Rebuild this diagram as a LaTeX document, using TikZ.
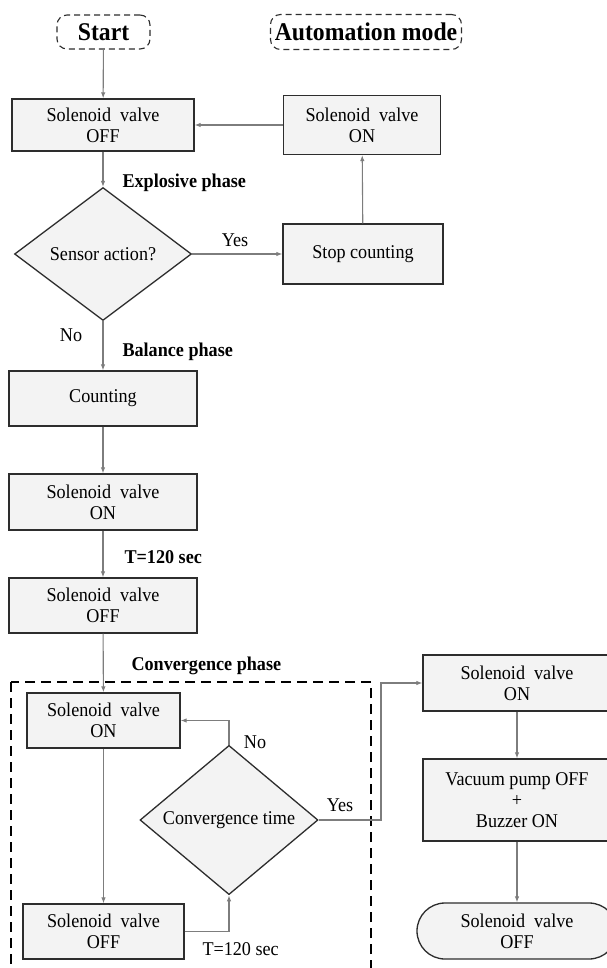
\documentclass[tikz,border=0pt]{standalone}
\usepackage{fontspec}
\setmainfont{Liberation Serif}[FakeStretch=0.93]
\usepackage{tikz}
\usetikzlibrary{arrows.meta, shapes.geometric, shapes.misc, calc}
\definecolor{boxfill}{RGB}{243,243,243}
\definecolor{boxline}{RGB}{45,45,45}
\definecolor{linegray}{RGB}{125,125,125}
\tikzset{>={Latex[length=6pt,width=4.5pt]}}
\tikzset{
  proc/.style={draw=boxline, line width=1.3pt, fill=boxfill, inner sep=0pt, align=center},
  decide/.style={diamond, draw=boxline, line width=1.3pt, fill=boxfill, inner sep=0pt, align=center},
  endbox/.style={rounded rectangle, draw=boxline, line width=1.3pt, fill=boxfill, inner sep=0pt, align=center},
  startbox/.style={draw=boxline, dash pattern=on 6pt off 4pt, line width=1.1pt, rounded corners=10pt, inner sep=0pt, font=\fontsize{25.5}{28}\selectfont\bfseries},
  conn/.style={draw=linegray, line width=1.1pt, ->},
  phase/.style={anchor=west, font=\fontsize{19.5}{21}\selectfont\bfseries}
}

\begin{document}
\begin{tikzpicture}[x=1pt, y=-1pt, font=\fontsize{19.5}{21}\selectfont]

			\useasboundingbox (0,0) rectangle (606,968);

			% top row
			\node [startbox, minimum width=93pt, minimum height=34pt] (start) at (103.5,32) {Start};
			\node [startbox, minimum width=191pt, minimum height=35pt] (auto) at (366,32) {Automation mode};

			% explosive phase
			\node [proc, minimum width=182pt, minimum height=52pt] (svoffa) at (103,125) {Solenoid\ \ valve\\OFF};
			\node [proc, minimum width=157pt, minimum height=59pt] (svonr) at (362,125) {Solenoid\ \ valve\\ON};
			\node [decide, minimum width=177pt, minimum height=133pt] (sensor) at (103,254) {Sensor action?};
			\node [proc, minimum width=160pt, minimum height=60pt] (stopc) at (363,254) {Stop counting};
			\node [phase] (lexpl) at (119,183) {Explosive phase};
			\node (lyesa) at (235,240) {Yes};
			\node (lnoa) at (71,335) {No};

			% balance phase
			\node [phase] (lbal) at (119,352) {Balance phase};
			\node [proc, minimum width=188pt, minimum height=55pt] (count) at (103,398.5) {Counting};
			\node [proc, minimum width=188pt, minimum height=56pt] (svonb) at (103,502) {Solenoid\ \ valve\\ON};
			\node [phase] (ltb) at (121,557) {T=120 sec};
			\node [proc, minimum width=188pt, minimum height=55pt] (svoffb) at (103,605.5) {Solenoid\ \ valve\\OFF};

			% convergence phase
			\node [phase] (lconv) at (128,666) {Convergence phase};
			\draw [black, line width=2pt, dash pattern=on 10pt off 6pt] (11,682) rectangle (371,990);
			\node [proc, minimum width=153pt, minimum height=55pt] (cvon) at (103.5,720.5) {Solenoid\ \ valve\\ON};
			\node [proc, minimum width=161pt, minimum height=55pt] (cvoff) at (103.5,931.5) {Solenoid\ \ valve\\OFF};
			\node [decide, minimum width=178pt, minimum height=127pt] (cvtime) at (229,820) {Convergence time};
			\node (lnob) at (255,742) {No};
			\node (lyesb) at (340,805) {Yes};
			\node [anchor=west] (ltc) at (199,949) {T=120 sec};

			% end branch
			\node [proc, minimum width=188pt, minimum height=56pt] (svonc) at (517,683) {Solenoid\ \ valve\\ON};
			\node [proc, minimum width=188pt, minimum height=82pt] (pump) at (517,800) {Vacuum pump OFF\\+\\Buzzer ON};
			\node [endbox, minimum width=200pt, minimum height=56pt] (svoffc) at (517,931) {Solenoid\ \ valve\\OFF};
			\coordinate (ybend) at (381,683);

			% connectors
			\draw [conn] (start) -- (svoffa);
			\draw [conn] (svonr) -- (svoffa);
			\draw [conn] (svoffa) -- (sensor);
			\draw [conn] (sensor) -- (stopc);
			\draw [conn] (stopc) -- (svonr);
			\draw [conn] (sensor) -- (count);
			\draw [conn] (count) -- (svonb);
			\draw [conn] (svonb) -- (svoffb);
			\draw [conn] (svoffb) -- (cvon);
			\draw [conn] (cvon) -- (cvoff);
			\draw [conn] (cvoff.east) -| (cvtime.south);
			\draw [conn] (cvtime.north) |- (cvon.east);
			\draw [conn] (cvtime.east) -| (ybend) -- (svonc.west);
			\draw [conn] (svonc) -- (pump);
			\draw [conn] (pump) -- (svoffc);

\end{tikzpicture}
\end{document}
